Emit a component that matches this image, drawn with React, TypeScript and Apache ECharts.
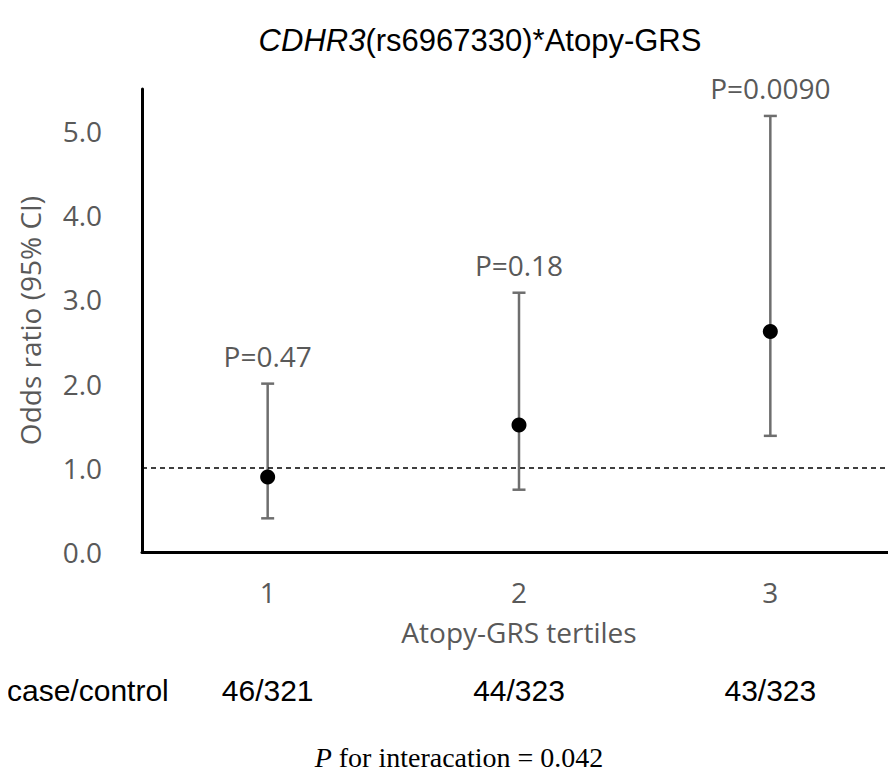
import React, { useEffect, useRef } from "react";
import * as echarts from "echarts";

const categories = ["1", "2", "3"];
const oddsRatio = [0.89, 1.51, 2.62];
const ciLower = [0.4, 0.74, 1.38];
const ciUpper = [2.0, 3.08, 5.18];
const pLabels = ["P=0.47", "P=0.18", "P=0.0090"];
const caseControl = ["46/321", "44/323", "43/323"];
const referenceLine = 1;
const yMin = 0;
const yMax = 5.5;
const yInterval = 1;

const GRAY = "#595959";
const SANS = "'Open Sans', 'Noto Sans', sans-serif";
const ARIAL = "'Liberation Sans', Arial, sans-serif";
const SERIF = "'Liberation Serif', 'Times New Roman', serif";

export default function App() {
  const ref = useRef<HTMLDivElement>(null);
  useEffect(() => {
    if (!ref.current) return;
    const chart = echarts.init(ref.current, undefined, { renderer: "svg" });
    const errData = categories.map((_, i) => [i, ciLower[i], ciUpper[i]]);
    const labelData = categories.map((_, i) => [i, ciUpper[i], i]);
    const option: any = {
      animation: false,
      grid: { left: 142, top: 89, width: 765, height: 463, containLabel: false },
      xAxis: [
        {
          type: "category",
          data: categories,
          boundaryGap: true,
          axisLine: { lineStyle: { color: "#000", width: 3 } },
          axisTick: { show: false },
          axisLabel: { color: GRAY, fontSize: 28, fontFamily: SANS, margin: 26 },
          name: "Atopy-GRS tertiles",
          nameLocation: "middle",
          nameGap: 66,
          nameTextStyle: { color: GRAY, fontSize: 28, fontFamily: SANS },
        },
        {
          type: "category",
          data: caseControl,
          position: "bottom",
          offset: 115,
          boundaryGap: true,
          axisLine: { show: false },
          axisTick: { show: false },
          axisLabel: { color: "#000", fontSize: 30, fontFamily: ARIAL, margin: 8 },
        },
      ],
      yAxis: {
        type: "value",
        min: yMin,
        max: yMax,
        interval: yInterval,
        axisLine: { show: true, lineStyle: { color: "#000", width: 3 } },
        axisTick: { show: false },
        splitLine: { show: false },
        axisLabel: {
          color: GRAY,
          fontSize: 28,
          fontFamily: SANS,
          margin: 40,
          formatter: (v: number) => (v % 1 === 0 ? v.toFixed(1) : ""),
        },
        name: "Odds ratio (95% CI)",
        nameLocation: "middle",
        nameGap: 98,
        nameTextStyle: { color: GRAY, fontSize: 28, fontFamily: SANS },
      },
      series: [
        {
          type: "custom",
          xAxisIndex: 0,
          data: errData,
          z: 2,
          renderItem: (params: any, api: any) => {
            const i = api.value(0);
            const lo = api.coord([i, api.value(1)]);
            const hi = api.coord([i, api.value(2)]);
            const cap = 6.5;
            const style = { stroke: "#6e6e6e", lineWidth: 2.5 };
            return {
              type: "group",
              children: [
                { type: "line", shape: { x1: lo[0], y1: lo[1], x2: hi[0], y2: hi[1] }, style },
                { type: "line", shape: { x1: hi[0] - cap, y1: hi[1], x2: hi[0] + cap, y2: hi[1] }, style },
                { type: "line", shape: { x1: lo[0] - cap, y1: lo[1], x2: lo[0] + cap, y2: lo[1] }, style },
              ],
            };
          },
        },
        {
          type: "custom",
          xAxisIndex: 0,
          data: labelData,
          z: 3,
          renderItem: (params: any, api: any) => {
            const i = api.value(0);
            const p = api.coord([i, api.value(1)]);
            return {
              type: "text",
              x: p[0],
              y: p[1] - 28,
              style: {
                text: pLabels[params.dataIndex],
                fill: GRAY,
                font: `28px ${SANS}`,
                textAlign: "center",
                textVerticalAlign: "middle",
              },
            };
          },
        },
        {
          type: "scatter",
          xAxisIndex: 0,
          data: oddsRatio,
          symbol: "circle",
          symbolSize: 15,
          itemStyle: { color: "#000", opacity: 1 },
          z: 5,
          markLine: {
            silent: true,
            symbol: "none",
            label: { show: false },
            lineStyle: { color: "#000", type: [5, 4], width: 1.5 },
            data: [{ yAxis: referenceLine }],
          },
        },
      ],
      graphic: [
        {
          type: "text",
          x: 480,
          y: 40,
          style: {
            text: "{i|CDHR3}(rs6967330)*Atopy-GRS",
            fill: "#000",
            font: `31px ${ARIAL}`,
            textAlign: "center",
            textVerticalAlign: "middle",
            rich: {
              i: { fontStyle: "italic", fontSize: 31, fontFamily: ARIAL, fill: "#000" },
            },
          },
        },
        {
          type: "text",
          x: 7,
          y: 690,
          style: {
            text: "case/control",
            fill: "#000",
            font: `30px ${ARIAL}`,
            textAlign: "left",
            textVerticalAlign: "middle",
          },
        },
        {
          type: "text",
          x: 459,
          y: 757,
          style: {
            text: "{i|P} for interacation = 0.042",
            fill: "#000",
            font: `28px ${SERIF}`,
            textAlign: "center",
            textVerticalAlign: "middle",
            rich: {
              i: { fontStyle: "italic", fontSize: 28, fontFamily: SERIF, fill: "#000" },
            },
          },
        },
      ],
    };
    chart.setOption(option);
    return () => chart.dispose();
  }, []);
  return <div ref={ref} style={{ width: 896, height: 778, margin: -8 }} />;
}
